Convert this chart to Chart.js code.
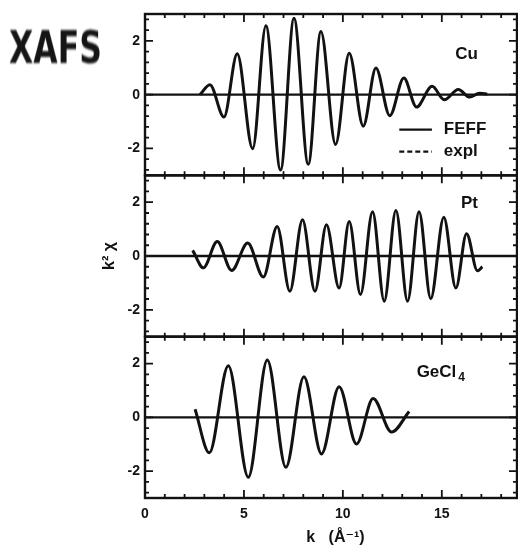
<!DOCTYPE html>
<html>
<head>
<meta charset="utf-8">
<script src="https://cdn.jsdelivr.net/npm/chart.js@4.4.1/dist/chart.umd.min.js"></script>
<style>
  html, body { margin: 0; padding: 0; background: #fff; }
  #wrap { position: relative; width: 518px; height: 547px; overflow: hidden; }
  #c { position: absolute; left: 0; top: 0; }
  #tag {
    position: absolute; left: 9px; top: 25px;
    font: bold 45px/1 "DejaVu Sans", sans-serif; color: #151515;
    transform: scaleX(0.70); transform-origin: left top;
    filter: blur(0.8px); white-space: nowrap;
  }
</style>
</head>
<body>
<div id="wrap">
  <canvas id="c" width="518" height="547"></canvas>
  <div id="tag">XAFS</div>
</div>
<script>
// k (1/Å) and k²χ at the turning points of each spectrum
const cuK   = [2.78, 3.28, 3.99, 4.66, 5.44, 6.11, 6.85, 7.53, 8.25, 8.89, 9.63, 10.32, 11.03, 11.67, 12.37, 13.08, 13.72, 14.51, 15.12, 15.83, 16.41, 16.9, 17.3];
const cuChi = [0.00, 0.37, -0.83, 1.52, -2.01, 2.56, -2.80, 2.84, -2.59, 2.35, -1.85, 1.54, -1.17, 0.99, -0.78, 0.62, -0.46, 0.31, -0.19, 0.19, -0.09, 0.05, 0.02];

const ptK   = [2.41, 2.95, 3.65, 4.38, 5.19, 5.98, 6.68, 7.32, 7.96, 8.59, 9.17, 9.81, 10.32, 10.89, 11.5, 12.09, 12.68, 13.27, 13.85, 14.44, 15.10, 15.71, 16.25, 16.80, 17.05];
const ptChi = [0.21, -0.44, 0.54, -0.54, 0.48, -0.78, 1.10, -1.31, 1.35, -1.31, 1.16, -1.19, 1.28, -1.43, 1.65, -1.68, 1.69, -1.68, 1.65, -1.59, 1.44, -1.19, 0.83, -0.55, -0.40];

const geK   = [2.53, 3.25, 4.21, 5.22, 6.18, 7.12, 8.03, 8.92, 9.81, 10.69, 11.53, 12.46, 13.35];
const geChi = [0.30, -1.32, 1.92, -2.23, 2.13, -1.86, 1.51, -1.36, 1.14, -0.99, 0.70, -0.55, 0.22];

const panelNames   = ['Cu', 'Pt', 'GeCl'];
const panelSubs    = ['', '', '4'];
const legendLabels = ['FEFF', 'expl'];
const kTicks   = [0, 5, 10, 15];
const chiTicks = [-2, 0, 2];
const kMinorStep = 1;
const chiMinorStep = 0.4;

const INK = '#121212';
const FONT = '"Liberation Sans", "DejaVu Sans", sans-serif';
const PANEL_IDS = ['yCu', 'yPt', 'yGe'];   // top to bottom

const toXY = (xs, ys) => xs.map((x, i) => ({ x: x, y: ys[i] }));

// where the panel names and the legend sit, in axis units
const namePos = [{ k: 16.25, c: 1.50 }, { k: 16.4, c: 1.96 }, { k: 14.95, c: 1.69 }];
const legendPos = { k0: 12.85, k1: 14.5, kText: 15.1, c: [-1.30, -2.12] };

const framePlugin = {
  id: 'frame',
  beforeDatasetsDraw(chart) {
    const { ctx, chartArea: a } = chart;
    ctx.save();
    ctx.strokeStyle = INK;
    ctx.lineWidth = 2.4;
    PANEL_IDS.forEach(id => {
      const y0 = chart.scales[id].getPixelForValue(0);
      ctx.beginPath();
      ctx.moveTo(a.left, y0);
      ctx.lineTo(a.right, y0);
      ctx.stroke();
    });
    ctx.restore();
  },
  afterDatasetsDraw(chart) {
    const { ctx, chartArea: a } = chart;
    const sx = chart.scales.x;
    ctx.save();
    ctx.strokeStyle = INK;
    ctx.fillStyle = INK;
    PANEL_IDS.forEach((id, p) => {
      const sy = chart.scales[id];
      const top = sy.top, bot = sy.bottom;
      // panel box
      ctx.lineWidth = 2.4;
      ctx.strokeRect(a.left, top, a.right - a.left, bot - top);
      // inward ticks along k
      ctx.lineWidth = 1.8;
      for (let v = 0; v <= sx.max; v += kMinorStep) {
        const px = sx.getPixelForValue(v);
        const len = v % 5 === 0 ? 8 : 4;
        ctx.beginPath();
        ctx.moveTo(px, top); ctx.lineTo(px, top + len);
        ctx.moveTo(px, bot); ctx.lineTo(px, bot - len);
        ctx.stroke();
      }
      // inward ticks along k²χ
      for (let i = -7; i <= 7; i++) {
        const v = Math.round(i * chiMinorStep * 10) / 10;
        const py = sy.getPixelForValue(v);
        const len = chiTicks.includes(v) ? 8 : 4;
        ctx.beginPath();
        ctx.moveTo(a.left, py); ctx.lineTo(a.left + len, py);
        ctx.moveTo(a.right, py); ctx.lineTo(a.right - len, py);
        ctx.stroke();
      }
      // panel name
      const nx = sx.getPixelForValue(namePos[p].k);
      const ny = sy.getPixelForValue(namePos[p].c);
      ctx.font = 'bold 17px ' + FONT;
      ctx.textBaseline = 'middle';
      ctx.textAlign = 'center';
      const main = panelNames[p];
      const sub = panelSubs[p];
      if (sub) {
        const wMain = ctx.measureText(main).width;
        ctx.font = 'bold 12px ' + FONT;
        const wSub = ctx.measureText(sub).width;
        const start = nx - (wMain + 2 + wSub) / 2;
        ctx.textAlign = 'left';
        ctx.font = 'bold 17px ' + FONT;
        ctx.fillText(main, start, ny);
        ctx.font = 'bold 12px ' + FONT;
        ctx.fillText(sub, start + wMain + 2, ny + 6);
      } else {
        ctx.fillText(main, nx, ny);
      }
    });

    // legend in the Cu panel
    const syCu = chart.scales.yCu;
    const lx0 = sx.getPixelForValue(legendPos.k0);
    const lx1 = sx.getPixelForValue(legendPos.k1);
    const tx = sx.getPixelForValue(legendPos.kText);
    legendLabels.forEach((lab, i) => {
      const ly = syCu.getPixelForValue(legendPos.c[i]);
      ctx.lineWidth = 2.4;
      ctx.setLineDash(i === 0 ? [] : [5, 3]);
      ctx.beginPath();
      ctx.moveTo(lx0, ly); ctx.lineTo(lx1, ly);
      ctx.stroke();
      ctx.setLineDash([]);
      ctx.font = 'bold 17px ' + FONT;
      ctx.textAlign = 'left';
      ctx.textBaseline = 'middle';
      ctx.fillText(lab, tx, ly);
    });
    ctx.restore();
  }
};

const tickFont = { family: FONT, size: 14, weight: 'bold' };

function chiScale(showTitle) {
  return {
    type: 'linear',
    position: 'left',
    stack: 'panels',
    stackWeight: 1,
    min: -3,
    max: 3,
    afterBuildTicks: s => { s.ticks = chiTicks.map(v => ({ value: v })); },
    afterFit: s => { s.width = 145; },
    grid: { display: false, drawTicks: false },
    border: { display: false },
    ticks: { color: INK, font: tickFont, padding: 5, autoSkip: false },
    title: {
      display: showTitle,
      text: 'k² χ',
      color: INK,
      font: { family: FONT, size: 16, weight: 'bold' },
      padding: { top: 100, bottom: 0 }
    }
  };
}

// stacked left axes are laid out from the last one upwards,
// so the bottom panel is declared first
const scales = {
  x: {
    type: 'linear',
    position: 'bottom',
    min: 0,
    max: 18.8,
    afterBuildTicks: s => { s.ticks = kTicks.map(v => ({ value: v })); },
    afterFit: s => { s.height = 49; },
    grid: { display: false, drawTicks: false },
    border: { display: false },
    ticks: { color: INK, font: tickFont, padding: 8, autoSkip: false, maxRotation: 0 },
    title: {
      display: true,
      text: '  k   (Å⁻¹)',
      color: INK,
      font: { family: FONT, size: 16, weight: 'bold' },
      padding: { top: 0, bottom: 0 }
    }
  },
  yGe: chiScale(false),
  yPt: chiScale(true),
  yCu: chiScale(false)
};

new Chart(document.getElementById('c'), {
  type: 'line',
  data: {
    datasets: [
      { data: toXY(cuK, cuChi), yAxisID: 'yCu' },
      { data: toXY(ptK, ptChi), yAxisID: 'yPt' },
      { data: toXY(geK, geChi), yAxisID: 'yGe' }
    ].map(d => Object.assign(d, {
      borderColor: INK,
      borderWidth: 3,
      pointRadius: 0,
      fill: false,
      cubicInterpolationMode: 'monotone'
    }))
  },
  options: {
    responsive: false,
    animation: false,
    layout: { padding: { top: 14, right: 1, left: 0, bottom: 0 } },
    plugins: { legend: { display: false }, tooltip: { enabled: false } },
    scales: scales
  },
  plugins: [framePlugin]
});
</script>
</body>
</html>
